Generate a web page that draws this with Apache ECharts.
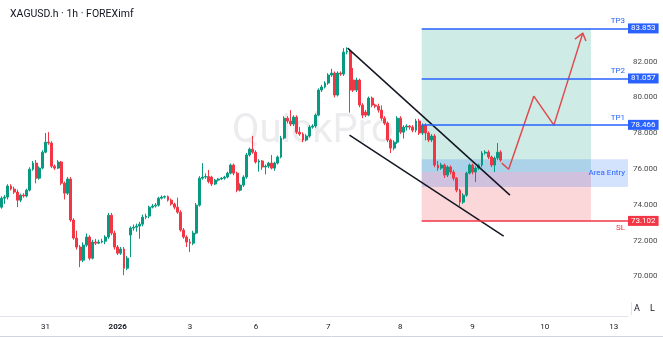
<!DOCTYPE html>
<html><head><meta charset="utf-8">
<script src="https://cdn.jsdelivr.net/npm/echarts@6/dist/echarts.min.js"></script>
<style>html,body{margin:0;padding:0;background:#fff}#c{width:663px;height:337px}</style>
</head><body><div id="c"></div>
<script>
// [open, close, low, high] hourly candles, XAGUSD.h
const candles = [
[73.87,74.37,73.78,74.48],[74.37,74.43,74.05,74.55],[74.43,75.05,74.30,75.15],[75.05,74.88,74.80,75.15],
[74.88,74.71,74.60,75.02],[74.71,74.26,73.87,74.85],[74.26,74.54,74.15,74.62],[74.54,74.49,74.40,74.65],
[74.49,74.82,74.42,74.90],[74.82,75.99,74.75,76.10],[75.99,76.33,75.90,76.45],[76.33,75.49,75.20,76.50],
[75.49,76.05,75.40,76.15],[76.05,76.94,75.98,77.05],[76.94,77.50,76.88,78.01],[77.50,77.45,77.35,78.06],
[77.45,76.16,76.05,77.55],[76.16,76.05,75.95,76.25],[76.05,76.39,76.00,76.50],[76.39,75.21,75.10,76.45],
[75.21,74.65,74.30,75.30],[74.65,75.44,74.55,75.55],[75.44,73.15,73.05,75.55],[73.15,72.14,72.05,73.25],
[72.14,71.64,71.50,72.55],[71.64,70.91,70.52,71.75],[70.91,71.75,70.80,71.90],[71.75,72.20,71.65,72.40],
[72.20,71.02,70.90,72.30],[71.02,71.92,70.95,72.05],[71.92,71.86,71.75,72.10],[71.86,71.92,71.80,72.05],
[71.92,71.97,71.85,72.10],[71.97,72.20,71.80,72.30],[72.20,73.42,72.10,73.55],[73.42,72.42,72.30,73.55],
[72.42,71.64,71.50,72.55],[71.64,71.30,71.20,71.75],[71.30,71.53,71.20,71.65],[71.53,70.46,70.07,71.65],
[70.46,71.02,70.35,71.15],[72.31,72.70,71.08,72.80],[72.70,72.75,72.55,72.90],[72.75,72.81,72.50,72.95],
[72.81,72.92,72.10,73.05],[72.92,73.31,72.80,73.45],[73.31,73.37,73.20,73.50],[73.37,73.87,73.25,73.95],
[73.87,73.93,73.80,74.05],[73.93,73.98,73.85,74.10],[73.98,74.37,73.90,74.45],[74.37,74.43,74.30,74.52],
[74.43,74.46,74.35,74.52],[74.46,74.26,74.18,74.52],[74.26,74.04,73.95,74.35],[74.04,73.87,73.75,74.12],
[73.87,73.59,73.50,74.40],[73.59,72.59,72.50,73.70],[72.59,72.20,72.10,72.70],[72.20,71.92,71.64,72.30],
[71.92,71.86,71.36,72.10],[71.86,72.42,71.75,72.55],[72.42,73.98,72.35,74.10],[73.98,75.49,73.90,75.60],
[75.49,75.55,75.40,76.33],[75.55,75.58,75.45,75.75],[75.58,75.30,75.20,75.95],[75.55,75.16,75.05,75.62],
[75.16,75.38,75.10,75.45],[75.38,75.44,75.30,75.50],[75.44,75.49,75.38,75.55],[75.49,75.55,75.40,75.62],
[75.55,75.77,75.48,75.85],[75.77,76.22,75.70,76.30],[76.22,75.77,75.65,76.30],[75.77,74.82,74.70,75.85],
[74.82,75.10,74.75,75.20],[75.10,75.55,75.00,75.65],[75.55,76.78,75.45,76.90],[76.78,77.11,76.70,77.20],
[77.11,76.94,76.85,77.84],[76.94,76.39,76.30,77.05],[76.39,76.45,75.85,76.55],[76.45,76.11,75.95,76.50],
[76.11,76.16,75.70,76.25],[76.16,76.33,76.05,76.40],[76.33,76.05,75.98,76.78],[76.05,76.33,75.90,76.40],
[76.33,76.67,76.25,76.75],[76.67,77.73,76.60,77.85],[77.73,78.84,77.65,78.95],[78.84,78.68,78.55,78.95],
[78.68,78.51,78.40,79.29],[78.51,78.90,78.40,79.00],[78.90,78.06,77.95,79.00],[78.06,77.95,77.85,78.35],
[77.95,77.62,77.50,78.05],[77.62,77.84,77.55,77.95],[77.84,78.34,77.75,78.45],[78.34,78.40,78.25,78.50],
[78.40,79.01,78.30,79.10],[79.01,80.41,78.95,80.50],[80.41,80.58,80.30,80.70],[80.58,80.80,80.50,80.90],
[80.80,81.25,80.70,81.35],[81.25,81.36,81.15,81.60],[81.36,80.13,80.00,81.45],[80.13,81.36,80.05,81.45],
[81.36,81.30,81.20,81.45],[81.30,82.53,81.20,82.75],[82.53,82.59,82.40,82.80],[82.59,80.41,79.15,82.70],
[80.97,80.41,80.30,81.64],[80.41,80.97,80.30,81.10],[80.97,79.57,79.45,81.05],[79.57,79.01,78.84,79.68],
[79.18,79.01,78.90,79.30],[79.01,79.96,78.95,80.05],[79.96,79.57,79.45,80.05],[79.57,79.51,79.40,79.65],
[79.51,79.29,79.15,79.65],[79.29,78.84,78.70,79.55],[78.84,78.56,78.45,78.95],[78.56,77.62,77.50,78.65],
[77.62,77.17,76.89,77.70],[77.17,77.50,77.05,77.60],[77.50,78.84,77.40,78.95],[78.84,78.06,77.95,78.95],
[78.06,78.34,77.70,78.45],[78.34,78.40,78.15,78.50],[78.40,78.34,78.20,78.45],[78.34,78.17,78.05,78.45],
[78.17,78.68,78.05,78.80],[78.68,78.01,77.90,78.80],[78.01,78.45,77.90,78.55],[78.45,78.01,77.60,78.55],
[78.01,77.62,77.50,78.10],[77.62,77.84,77.50,77.95],[77.84,76.22,76.10,77.95],[76.22,76.05,75.90,76.45],
[76.05,76.22,75.95,76.35],[76.22,75.66,75.50,76.30],[75.66,76.11,75.55,76.20],[76.11,75.83,75.70,76.20],
[75.83,75.49,75.35,75.95],[75.49,74.82,74.70,75.55],[74.82,74.15,73.93,74.90],[74.15,74.54,74.05,74.65],
[74.54,75.77,74.45,75.85],[75.77,76.22,75.70,76.30],[76.22,75.83,75.70,76.30],[75.83,76.05,75.27,76.15],
[76.05,76.22,75.95,76.30],[76.22,76.89,76.10,77.00],[76.89,76.94,76.80,77.05],[76.94,76.67,76.55,77.05],
[76.67,76.22,76.10,76.75],[76.22,76.61,75.83,76.70],[76.61,76.94,76.50,77.45],[76.94,76.50,76.40,77.05]
];
const slotCount = 200;
const dayLabels = ['31','2026','3','6','7','8','9','10','13'];
const dayLabelIdx = [14,37,60,81,104,127,150,173,195];
const yTicks = [70,72,74,76,78,80,82];
const tpNames = ['TP3','TP2','TP1'];
const tpValues = [83.853,81.057,78.466];
const slValue = 73.102;
const entryPrice = 75.83;
const entryZone = [75.0,76.55];
const tradeRange = [133.8,187.7];
const trendUpper = [[110.2,82.75],[161.9,74.54]];
const trendLower = [[110.8,77.89],[159.9,72.25]];
const projection = [[159.3,76.33],[161.5,75.99],[169.5,80.07],[175.9,78.45],[185.1,83.59]];
const arrowHead = [[182.6,83.26],[185.1,83.59],[186.1,83.15]];

const categories = [];
for (let i = 0; i < slotCount; i++) categories.push(String(i));
const xEnd = slotCount - 0.5;
const blue = '#2962ff', red = '#f23645';
const font = 'Roboto, "Noto Sans", sans-serif';
const clear = 'rgba(0,0,0,0)';

const levelLines = [];
tpNames.forEach((n, k) => {
  const v = tpValues[k];
  levelLines.push([{coord:[tradeRange[0],v], lineStyle:{color:blue,width:1.5,type:'solid'},
    label:{show:true,position:'end',distance:0,formatter:v.toFixed(3),backgroundColor:blue,color:'#fff',
      fontSize:8,lineHeight:9,padding:[1,3,0,3],fontFamily:font}}, {coord:[xEnd,v]}]);
  levelLines.push([{coord:[tradeRange[0],v], lineStyle:{color:clear,width:0},
    label:{show:true,position:'insideEndTop',distance:3,formatter:n,color:blue,fontSize:8,fontFamily:font}}, {coord:[xEnd,v]}]);
});
levelLines.push([{coord:[tradeRange[0],slValue], lineStyle:{color:red,width:1.5,type:'solid'},
  label:{show:true,position:'end',distance:0,formatter:slValue.toFixed(3),backgroundColor:red,color:'#fff',
    fontSize:8,lineHeight:9,padding:[1,3,0,3],fontFamily:font}}, {coord:[xEnd,slValue]}]);
levelLines.push([{coord:[tradeRange[0],slValue], lineStyle:{color:clear,width:0},
  label:{show:true,position:'insideEndBottom',distance:3,formatter:'SL',color:red,fontSize:8,fontFamily:font}}, {coord:[xEnd,slValue]}]);

const chart = echarts.init(document.getElementById('c'), null, {renderer:'canvas'});
chart.setOption({
  animation:false,
  backgroundColor:'#fff',
  textStyle:{fontFamily:font},
  title:{text:'XAGUSD.h · 1h · FOREXimf',left:5,top:4,textStyle:{fontSize:10.5,fontWeight:'normal',color:'#131722',fontFamily:font}},
  grid:{left:0,right:35,top:0,bottom:21},
  xAxis:[
    {type:'category',data:categories,boundaryGap:true,
     axisLine:{show:true,lineStyle:{color:'#e0e3eb'}},axisTick:{show:false},splitLine:{show:false},
     axisLabel:{interval:(i)=>dayLabelIdx.includes(i),margin:7,fontSize:8,color:'#131722',
       formatter:(v,i)=>{const k=dayLabelIdx.indexOf(i); if(k<0) return ''; const t=dayLabels[k]; return t==='2026'?'{b|'+t+'}':t;},
       rich:{b:{fontWeight:'bold',fontSize:8,color:'#131722'}}}},
    {type:'value',min:-0.5,max:xEnd,show:false}
  ],
  yAxis:{type:'value',position:'right',min:67.79,max:85.44,
    axisLine:{show:false},axisTick:{show:false},splitLine:{show:false},
    axisLabel:{customValues:yTicks,margin:5,fontSize:8,color:'#4a4a4a',formatter:(v)=>v.toFixed(3)}},
  series:[
    {type:'line',xAxisIndex:1,data:[[tradeRange[0],entryPrice]],symbol:'none',lineStyle:{opacity:0},z:1,silent:true,
     markArea:{silent:true,label:{show:false},data:[
       [{coord:[tradeRange[0],tpValues[0]],itemStyle:{color:'rgba(8,153,129,0.2)'}},{coord:[tradeRange[1],entryPrice]}],
       [{coord:[tradeRange[0],entryPrice],itemStyle:{color:'rgba(242,54,69,0.2)'}},{coord:[tradeRange[1],slValue]}],
       [{coord:[tradeRange[0],entryZone[1]],itemStyle:{color:'rgba(33,110,243,0.2)'},
         label:{show:true,position:'insideRight',distance:3,formatter:'Area Entry',color:blue,fontSize:8,fontFamily:font}},
        {coord:[xEnd,entryZone[0]]}]
     ]}},
    {type:'candlestick',data:candles,barWidth:2.4,z:2,
     itemStyle:{color:'#089981',color0:red,borderColor:'#089981',borderColor0:red,borderWidth:1}},
    {type:'line',xAxisIndex:1,data:[[tradeRange[0],entryPrice]],symbol:'none',lineStyle:{opacity:0},z:3,silent:true,
     markLine:{silent:true,symbol:['none','none'],data:levelLines}},
    {type:'line',xAxisIndex:1,data:trendUpper,symbol:'none',lineStyle:{color:'#131722',width:1.5},z:4,silent:true},
    {type:'line',xAxisIndex:1,data:trendLower,symbol:'none',lineStyle:{color:'#131722',width:1.5},z:4,silent:true},
    {type:'line',xAxisIndex:1,data:projection,symbol:'none',lineStyle:{color:'#e04a4f',width:1.5},z:4,silent:true},
    {type:'line',xAxisIndex:1,data:arrowHead,symbol:'none',lineStyle:{color:'#e04a4f',width:1.5},z:4,silent:true}
  ],
  graphic:[
    {type:'text',left:232,top:112,z:0,style:{text:'QuickPro',fontSize:40,fontFamily:font,fill:'rgba(120,123,134,0.14)'}},
    {type:'text',left:634,top:304,style:{text:'A',fontSize:9,fontFamily:font,fill:'#131722'}},
    {type:'text',left:650,top:304,style:{text:'L',fontSize:9,fontFamily:font,fill:'#131722'}},
    {type:'line',shape:{x1:631.5,y1:302,x2:631.5,y2:315},style:{stroke:'#e0e3eb',lineWidth:1}},
    {type:'line',shape:{x1:0,y1:336.5,x2:663,y2:336.5},style:{stroke:'#d1d4dc',lineWidth:1}}
  ]
});
</script></body></html>
